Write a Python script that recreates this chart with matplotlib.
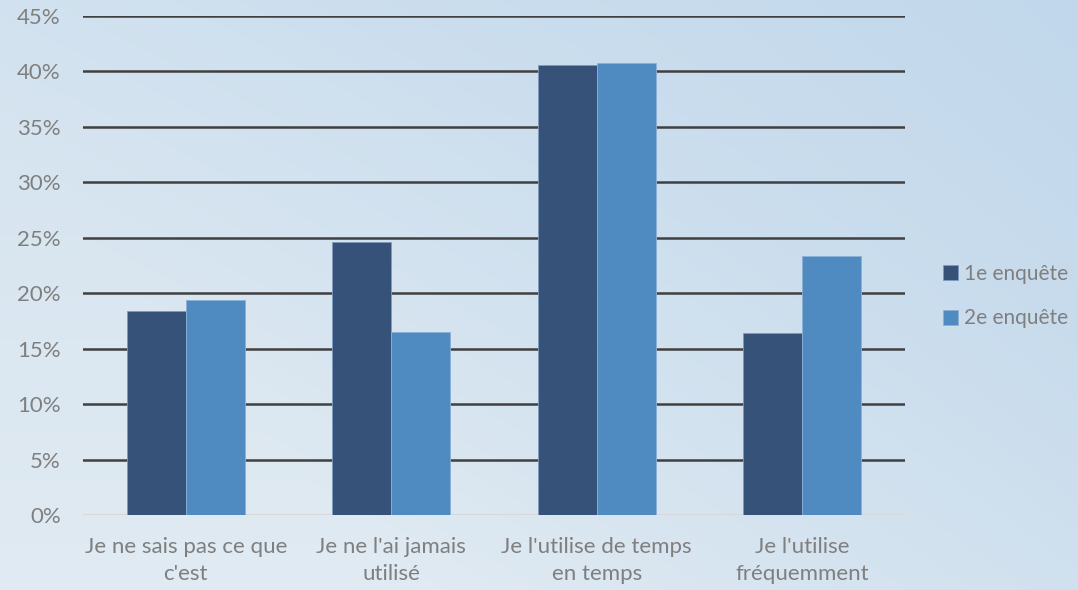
import matplotlib.pyplot as plt
import numpy as np

# Data
categories = ["Je ne sais pas ce que\nc'est", "Je ne l'ai jamais\nutilisé",
              "Je l'utilise de temps\nen temps", "Je l'utilise\nfréquemment"]
enquete_1 = [18.4, 24.6, 40.6, 16.4]
enquete_2 = [19.4, 16.5, 40.8, 23.4]
series_names = ["1e enquête", "2e enquête"]

plt.rcParams['font.family'] = ['Lato', 'DejaVu Sans']
text_color = '#7f7f7f'

fig = plt.figure(figsize=(10.78, 5.9), dpi=100)

# Gradient background
bg = fig.add_axes([0, 0, 1, 1], zorder=-10)
yy, xx = np.mgrid[0:1:200j, 0:1:200j]
top_left = np.array([0.83, 0.89, 0.94])
bottom_left = np.array([0.88, 0.92, 0.95])
top_right = np.array([0.75, 0.84, 0.92])
t = np.clip(xx * 0.8 + (1 - yy) * 0.4 - 0.3, 0, 1)[..., None]
base = top_left + (bottom_left - top_left) * yy[..., None]
img = base * (1 - t) + top_right * t
bg.imshow(img, aspect='auto', extent=[0, 1, 0, 1])
bg.axis('off')

ax = fig.add_axes([83 / 1078, 75 / 590, (905 - 83) / 1078, (515 - 16) / 590])
ax.patch.set_alpha(0)

x = np.arange(len(categories))
w = 0.287
ax.bar(x - w / 2, enquete_1, w, color='#375279', edgecolor='#7f9ac0', linewidth=0.6,
       label=series_names[0], zorder=3)
ax.bar(x + w / 2, enquete_2, w, color='#4f8bc0', edgecolor='#8ab0d6', linewidth=0.6,
       label=series_names[1], zorder=3)

ax.set_xlim(-0.5, len(categories) - 0.5)
ax.set_ylim(0, 45)
ax.set_yticks(np.arange(0, 46, 5))
ax.set_yticklabels([f"{v}%" for v in range(0, 46, 5)])
ax.set_xticks(x)
ax.set_xticklabels(categories, linespacing=1.45)
ax.tick_params(axis='both', length=0, labelsize=16, colors=text_color)
ax.tick_params(axis='y', pad=16)
ax.tick_params(axis='x', pad=16)

for v in range(5, 46, 5):
    ax.axhline(v, color='#404040', linewidth=1.8, zorder=1)
ax.axhline(0, color='#d8d8d8', linewidth=1.5, zorder=2)

for s in ax.spines.values():
    s.set_visible(False)

leg = ax.legend(loc='center left', bbox_to_anchor=(943 / 1078, 1 - 296 / 590),
                bbox_transform=fig.transFigure, frameon=False,
                fontsize=15, handlelength=0.7, handleheight=0.7,
                handletextpad=0.3, labelspacing=1.2, borderpad=0, borderaxespad=0)
for txt in leg.get_texts():
    txt.set_color(text_color)

fig.savefig('out.png', dpi=100)
